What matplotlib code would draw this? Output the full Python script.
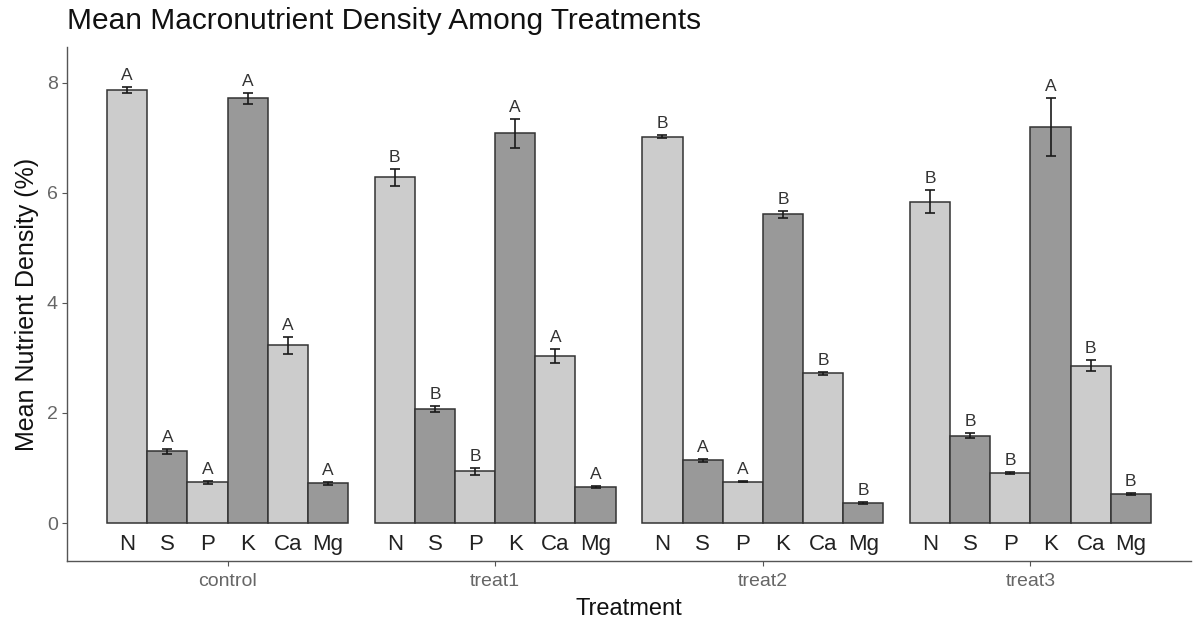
import matplotlib
matplotlib.use("Agg")
import matplotlib.pyplot as plt
import numpy as np

plt.rcParams['font.family'] = ['Liberation Sans', 'DejaVu Sans']

treatments = ["control", "treat1", "treat2", "treat3"]
nutrients = ["N", "S", "P", "K", "Ca", "Mg"]

control_mean = [7.87, 1.30, 0.74, 7.72, 3.23, 0.72]
treat1_mean = [6.28, 2.07, 0.94, 7.08, 3.03, 0.65]
treat2_mean = [7.02, 1.14, 0.75, 5.61, 2.72, 0.37]
treat3_mean = [5.84, 1.59, 0.91, 7.20, 2.86, 0.53]

control_se = [0.06, 0.04, 0.03, 0.10, 0.15, 0.03]
treat1_se = [0.16, 0.06, 0.06, 0.27, 0.13, 0.02]
treat2_se = [0.03, 0.03, 0.01, 0.06, 0.03, 0.02]
treat3_se = [0.21, 0.05, 0.02, 0.53, 0.10, 0.02]

control_letters = ["A", "A", "A", "A", "A", "A"]
treat1_letters = ["B", "B", "B", "A", "A", "A"]
treat2_letters = ["B", "A", "A", "B", "B", "B"]
treat3_letters = ["B", "B", "B", "A", "B", "B"]

means = [control_mean, treat1_mean, treat2_mean, treat3_mean]
ses = [control_se, treat1_se, treat2_se, treat3_se]
letters = [control_letters, treat1_letters, treat2_letters, treat3_letters]

fills = ["#cccccc", "#999999"]

fig = plt.figure(figsize=(11.93, 6.27), dpi=100)
ax = fig.add_axes([67 / 1193, (627 - 561) / 627, (1191 - 67) / 1193, (561 - 47) / 627])

width = 0.15
n = len(nutrients)
for gi, t in enumerate(treatments):
    for ni, nut in enumerate(nutrients):
        x = gi + (ni - (n - 1) / 2) * width
        m = means[gi][ni]
        s = ses[gi][ni]
        ax.bar(x, m, width=width, color=fills[ni % 2], edgecolor="#333333", linewidth=1.1, zorder=2)
        ax.errorbar(x, m, yerr=s, fmt="none", ecolor="#1a1a1a", elinewidth=1.2, capsize=3.5, capthick=1.2, zorder=3)
        ax.text(x, m + s + 0.07, letters[gi][ni], ha="center", va="bottom", fontsize=12.5, color="#333333", zorder=4)
        ax.text(x, -0.2, nut, ha="center", va="top", fontsize=16, color="#222222")

ax.set_xlim(-0.6, 3.6)
ax.set_ylim(-0.69, 8.65)
ax.set_xticks(range(len(treatments)))
ax.set_xticklabels(treatments)
ax.set_yticks([0, 2, 4, 6, 8])
ax.tick_params(axis="both", colors="#555555", labelcolor="#666666", labelsize=14, length=3.5, width=0.8, pad=3)
ax.tick_params(axis="x", pad=5)

for side in ["top", "right"]:
    ax.spines[side].set_visible(False)
for side in ["left", "bottom"]:
    ax.spines[side].set_color("#555555")
    ax.spines[side].set_linewidth(1.0)

ax.set_xlabel("Treatment", fontsize=17, color="#111111", labelpad=6)
ax.set_ylabel("Mean Nutrient Density (%)", fontsize=18, color="#111111", labelpad=6)
fig.text(67 / 1193, 1 - 21 / 627, "Mean Macronutrient Density Among Treatments", fontsize=21.5, color="#111111", ha="left", va="center")

fig.savefig("out.png", dpi=100)
